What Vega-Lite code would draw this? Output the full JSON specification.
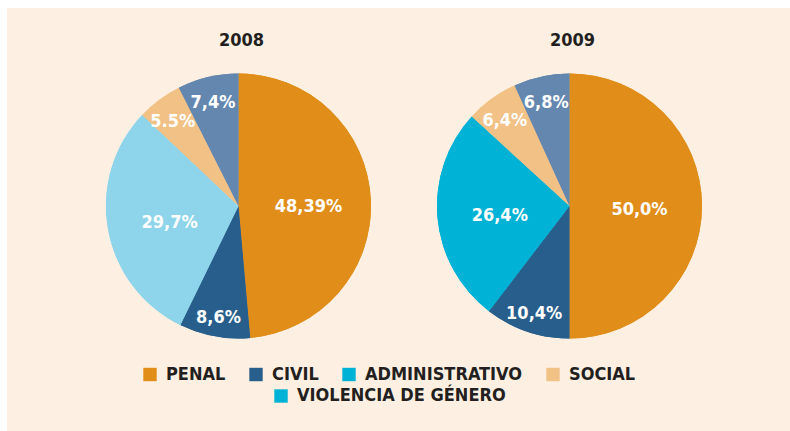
{
  "$schema": "https://vega.github.io/schema/vega-lite/v6.json",
  "width": 783,
  "height": 423,
  "padding": {"left": 7, "top": 8, "right": 0, "bottom": 0},
  "autosize": {"type": "none"},
  "background": "#ffffff",
  "config": {"view": {"fill": "#fdf0e3", "stroke": null}, "font": "DejaVu Sans Condensed"},
  "datasets": {
    "shares": [
      {"year": "2008", "cat": "PENAL", "v": 48.39, "ord": 1, "label": "48,39%"},
      {"year": "2008", "cat": "CIVIL", "v": 8.6, "ord": 2, "label": "8,6%"},
      {"year": "2008", "cat": "ADMINISTRATIVO", "v": 29.7, "ord": 3, "label": "29,7%"},
      {"year": "2008", "cat": "SOCIAL", "v": 5.5, "ord": 4, "label": "5.5%"},
      {"year": "2008", "cat": "VIOLENCIA DE GÉNERO", "v": 7.4, "ord": 5, "label": "7,4%"},
      {"year": "2009", "cat": "PENAL", "v": 50.0, "ord": 1, "label": "50,0%"},
      {"year": "2009", "cat": "CIVIL", "v": 10.4, "ord": 2, "label": "10,4%"},
      {"year": "2009", "cat": "ADMINISTRATIVO", "v": 26.4, "ord": 3, "label": "26,4%"},
      {"year": "2009", "cat": "SOCIAL", "v": 6.4, "ord": 4, "label": "6,4%"},
      {"year": "2009", "cat": "VIOLENCIA DE GÉNERO", "v": 6.8, "ord": 5, "label": "6,8%"}
    ],
    "years": [{"year": "2008"}, {"year": "2009"}]
  },
  "layer": [
    {
      "data": {"name": "shares"},
      "transform": [
        {"stack": "v", "groupby": ["year"], "sort": [{"field": "ord"}], "offset": "normalize", "as": ["s0", "s1"]},
        {"calculate": "(datum.s0 + datum.s1) / 2", "as": "mid"},
        {"calculate": "datum.s1 - datum.s0 > 0.2 ? 70 : 110", "as": "lr"}
      ],
      "layer": [
        {
          "mark": {"type": "arc", "outerRadius": 132.5},
          "encoding": {
            "x": {"field": "year", "type": "nominal", "scale": {"type": "point", "domain": ["2008", "2009"], "range": [231.5, 562.5], "padding": 0}, "axis": null},
            "y": {"datum": "pie", "type": "nominal", "scale": {"type": "point", "domain": ["title", "pie"], "range": [33, 198], "padding": 0}, "axis": null},
            "theta": {"field": "s0", "type": "quantitative", "stack": null, "scale": {"domain": [0, 1], "range": [0, 6.283185307179586]}},
            "theta2": {"field": "s1"},
            "color": {
              "field": "cat", "type": "nominal",
              "scale": {"domain": ["PENAL", "CIVIL", "ADMINISTRATIVO", "SOCIAL", "VIOLENCIA DE GÉNERO"], "range": ["#e18d1a", "#285e8c", "#00b2d5", "#f1c186", "#00b2d5"]},
              "condition": [
                {"test": "datum.year === '2008' && datum.cat === 'ADMINISTRATIVO'", "value": "#8ed4ea"},
                {"test": "datum.cat === 'VIOLENCIA DE GÉNERO'", "value": "#6387af"}
              ],
              "legend": {"title": null, "orient": "none", "legendX": 265, "legendY": 379, "direction": "horizontal", "values": ["VIOLENCIA DE GÉNERO"], "symbolType": "square", "symbolSize": 180, "symbolStrokeWidth": 0, "labelFont": "DejaVu Sans Condensed", "labelFontSize": 18, "labelFontWeight": "bold", "labelColor": "#231f20", "labelOffset": 7, "columnPadding": 21, "padding": 0, "labelLimit": 400}
            }
          }
        },
        {
          "mark": {"type": "arc", "outerRadius": 132.5},
          "encoding": {
            "x": {"field": "year", "type": "nominal"},
            "y": {"datum": "pie", "type": "nominal"},
            "theta": {"field": "s0", "type": "quantitative", "stack": null},
            "theta2": {"field": "s1"},
            "color": {
              "field": "cat", "type": "nominal",
              "scale": {"domain": ["PENAL", "CIVIL", "ADMINISTRATIVO", "SOCIAL", "VIOLENCIA DE GÉNERO"], "range": ["#e18d1a", "#285e8c", "#00b2d5", "#f1c186", "#00b2d5"]},
              "condition": [
                {"test": "datum.year === '2008' && datum.cat === 'ADMINISTRATIVO'", "value": "#8ed4ea"},
                {"test": "datum.cat === 'VIOLENCIA DE GÉNERO'", "value": "#6387af"}
              ],
              "legend": {"title": null, "orient": "none", "legendX": 134, "legendY": 357.5, "direction": "horizontal", "values": ["PENAL", "CIVIL", "ADMINISTRATIVO", "SOCIAL"], "symbolType": "square", "symbolSize": 180, "symbolStrokeWidth": 0, "labelFont": "DejaVu Sans Condensed", "labelFontSize": 18, "labelFontWeight": "bold", "labelColor": "#231f20", "labelOffset": 7, "columnPadding": 21, "padding": 0, "labelLimit": 400}
            }
          }
        },
        {
          "mark": {"type": "text", "font": "DejaVu Sans Condensed", "fontSize": 18, "fontWeight": "bold", "color": "#ffffff", "align": "center", "baseline": "middle", "dy": 4},
          "encoding": {
            "x": {"field": "year", "type": "nominal"},
            "y": {"datum": "pie", "type": "nominal"},
            "theta": {"field": "mid", "type": "quantitative", "stack": null},
            "radius": {"field": "lr", "type": "quantitative", "scale": null},
            "text": {"field": "label", "type": "nominal"}
          }
        }
      ],
      "resolve": {"scale": {"color": "independent"}, "legend": {"color": "independent"}}
    },
    {
      "data": {"name": "years"},
      "mark": {"type": "text", "font": "DejaVu Sans Condensed", "fontSize": 18, "fontWeight": "bold", "color": "#231f20", "align": "center", "baseline": "middle", "dx": 3},
      "encoding": {
        "x": {"field": "year", "type": "nominal"},
        "y": {"datum": "title", "type": "nominal"},
        "text": {"field": "year", "type": "nominal"}
      }
    }
  ]
}
